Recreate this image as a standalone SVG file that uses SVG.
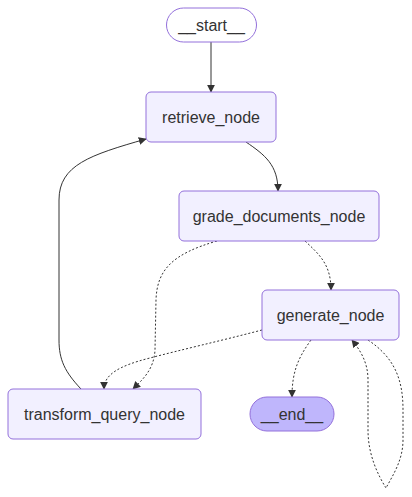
<svg xmlns="http://www.w3.org/2000/svg" width="412" height="497" viewBox="0 0 412 497">
<defs>
<style>
.node rect{fill:#f2f0ff;stroke:#9370DB;stroke-width:1}
.node.first rect{fill:#ffffff}
.node.last rect{fill:#bfb6fc}
.node text{font-family:"Liberation Sans",Arial,sans-serif;font-size:16px;fill:#333333;text-anchor:middle}
.edge{fill:none;stroke:#333333;stroke-width:1}
.dotted{stroke-dasharray:2 2}
</style>
<marker id="arrow" viewBox="0 0 10 10" refX="9" refY="5" markerWidth="8" markerHeight="8" markerUnits="userSpaceOnUse" orient="auto">
<path d="M0,0 L10,5 L0,10 z" fill="#333333"/>
</marker>
</defs>
<rect width="412" height="497" fill="#ffffff"/>
<g id="edges">
<path class="edge" d="M211,42 L211,92" marker-end="url(#arrow)"/>
<path class="edge" d="M246,142 C265,155 278,165 278,191" marker-end="url(#arrow)"/>
<path class="edge dotted" d="M305,241 C320,255 331,265 331,290" marker-end="url(#arrow)"/>
<path class="edge dotted" d="M217,241 C172,254 157,270 156,300 L155,350 C154,370 142,380 133,389" marker-end="url(#arrow)"/>
<path class="edge dotted" d="M262,330 C220,341 180,350 150,358 C118,366 104,375 104,389" marker-end="url(#arrow)"/>
<path class="edge dotted" d="M311,340 C298,358 292,372 292,397" marker-end="url(#arrow)"/>
<path class="edge dotted" d="M368,340 C395,358 403,380 403,410 L403,440 C403,460 393,475 386,488 C378,475 368,455 368,430 L368,380 C368,362 360,350 352,340" marker-end="url(#arrow)"/>
<path class="edge" d="M81,389 C65,372 59,360 59,340 L59,200 C59,165 90,155 146,139" marker-end="url(#arrow)"/>
</g>
<g id="start" class="node first">
<rect x="166.5" y="8" width="90" height="34" rx="17" ry="17"/>
<text x="211.5" y="30.5">__start__</text>
</g>
<g id="retrieve_node" class="node">
<rect x="146" y="92" width="130" height="50" rx="5" ry="5"/>
<text x="211" y="122.5">retrieve_node</text>
</g>
<g id="grade_documents_node" class="node">
<rect x="179" y="191" width="200" height="50" rx="5" ry="5"/>
<text x="279" y="221.5">grade_documents_node</text>
</g>
<g id="generate_node" class="node">
<rect x="262" y="290" width="137" height="50" rx="5" ry="5"/>
<text x="330.5" y="320.5">generate_node</text>
</g>
<g id="transform_query_node" class="node">
<rect x="8" y="389" width="193" height="50" rx="5" ry="5"/>
<text x="104.5" y="419.5">transform_query_node</text>
</g>
<g id="end" class="node last">
<rect x="250" y="397" width="84" height="34" rx="17" ry="17"/>
<text x="292" y="419.5">__end__</text>
</g>
</svg>
